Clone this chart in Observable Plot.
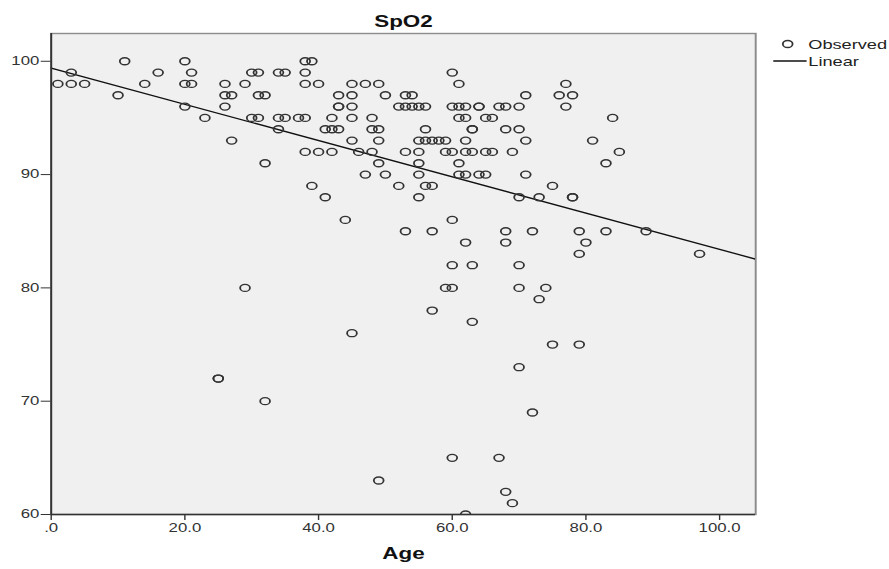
<!DOCTYPE html>
<html>
<head>
<meta charset="utf-8">
<script src="https://cdn.jsdelivr.net/npm/d3@7"></script>
<script src="https://cdn.jsdelivr.net/npm/@observablehq/plot@0.6"></script>
<style>
html, body { margin: 0; padding: 0; background: #fff; overflow: hidden; }
#wrap { position: relative; width: 889px; height: 569px; }
#legend { position: absolute; left: 773px; top: 36px; font-family: 'Liberation Sans', Arial, sans-serif; }
</style>
</head>
<body>
<div id="wrap">
  <svg id="legend" width="116" height="35" viewBox="0 0 82.86 35" preserveAspectRatio="none">
    <circle cx="10.5" cy="8" r="3.5" fill="none" stroke="#333" stroke-width="1.3"></circle>
    <text x="25.2" y="8" dy="0.35em" font-size="13" fill="#222">Observed</text>
    <line x1="0.2" x2="24" y1="25" y2="25" stroke="#111" stroke-width="1.3"></line>
    <text x="25.2" y="25" dy="0.35em" font-size="13" fill="#222">Linear</text>
  </svg>
</div>
<script>
// ---- Data ----
const ageValues = [
  1, 3, 3, 5, 10, 11, 14, 16, 20, 20, 21, 21, 20, 23, 26, 26, 27, 26, 29, 27,
  30, 31, 31, 32, 30, 31, 32, 34, 35, 34, 35, 37, 34, 29, 25, 25, 32, 39, 41, 44, 45, 49,
  38, 39,
  38,
  38, 40, 45, 47, 49,
  43, 45, 50, 53, 54,
  43, 43, 45, 52, 53, 54, 55, 56,
  38, 42, 45, 48,
  41, 42, 43, 48, 49, 56,
  45, 49, 55, 56, 57, 58, 59,
  38, 40, 42, 46, 48, 53, 55, 59,
  49, 55,
  47, 50, 55,
  52, 56, 57,
  55,
  60,
  61, 77,
  71, 76, 78,
  60, 61, 62, 64, 64, 67, 68, 70, 77,
  61, 62, 65, 66, 84,
  63, 63, 68, 70,
  62, 71, 81,
  60, 62, 63, 65, 66, 69, 85,
  61, 83,
  61, 62, 64, 65, 71,
  75,
  70, 73, 78, 78,
  60,
  53, 57, 68, 72, 79, 83, 89,
  62, 68, 80,
  79, 97,
  60, 63, 70,
  59, 60, 70, 74,
  73,
  57,
  63,
  75, 79,
  70,
  72,
  60, 67,
  68,
  69,
  62
];
const spo2Values = [
  98, 99, 98, 98, 97, 100, 98, 99, 100, 98, 98, 99, 96, 95, 98, 97, 97, 96, 98, 93,
  99, 99, 97, 97, 95, 95, 91, 99, 99, 95, 95, 95, 94, 80, 72, 72, 70, 89, 88, 86, 76, 63,
  100, 100,
  99,
  98, 98, 98, 98, 98,
  97, 97, 97, 97, 97,
  96, 96, 96, 96, 96, 96, 96, 96,
  95, 95, 95, 95,
  94, 94, 94, 94, 94, 94,
  93, 93, 93, 93, 93, 93, 93,
  92, 92, 92, 92, 92, 92, 92, 92,
  91, 91,
  90, 90, 90,
  89, 89, 89,
  88,
  99,
  98, 98,
  97, 97, 97,
  96, 96, 96, 96, 96, 96, 96, 96, 96,
  95, 95, 95, 95, 95,
  94, 94, 94, 94,
  93, 93, 93,
  92, 92, 92, 92, 92, 92, 92,
  91, 91,
  90, 90, 90, 90, 90,
  89,
  88, 88, 88, 88,
  86,
  85, 85, 85, 85, 85, 85, 85,
  84, 84, 84,
  83, 83,
  82, 82, 82,
  80, 80, 80, 80,
  79,
  78,
  77,
  75, 75,
  73,
  69,
  65, 65,
  62,
  61,
  60
];
const xTicks = [0, 20, 40, 60, 80, 100];
const yTicks = [60, 70, 80, 90, 100];
const xDomain = [0, 105.4];
const yDomain = [60, 102.45];
// Linear fit shown in the reference (intercept, slope)
const fitIntercept = 99.4;
const fitSlope = -0.16;

// ---- Build tables ----
const points = ageValues.map((a, i) => ({age: a, spo2: spo2Values[i]}));
const fitLine = xDomain.map(a => ({age: a, spo2: fitIntercept + fitSlope * a}));

const S = 1.4; // the reference is stretched horizontally
const W = 889 / S;

const chart = Plot.plot({
  width: W,
  height: 569,
  marginLeft: 50.5 / S,
  marginRight: (889 - 755) / S,
  marginTop: 33,
  marginBottom: 55,
  style: {
    fontFamily: "'Liberation Sans', Arial, sans-serif",
    fontSize: "12px",
    color: "#333",
    background: "transparent",
    overflow: "visible"
  },
  x: {domain: xDomain},
  y: {domain: yDomain},
  marks: [
    Plot.frame({fill: "#f0f0f0", stroke: "#8c8c8c", strokeWidth: 1.4}),
    Plot.line(fitLine, {x: "age", y: "spo2", stroke: "#111", strokeWidth: 1.3, clip: true}),
    Plot.dot(points, {x: "age", y: "spo2", r: 3.5, stroke: "#333", strokeWidth: 1.3, fill: "none", clip: true}),
    Plot.ruleX([xDomain[0]], {stroke: "#333", strokeWidth: 1.3}),
    Plot.ruleY([yDomain[0]], {stroke: "#333", strokeWidth: 1.3}),
    Plot.axisX({ticks: xTicks, tickFormat: d => d === 0 ? ".0" : d.toFixed(1), tickSize: 6, tickPadding: 3, label: null}),
    Plot.axisY({ticks: yTicks, tickFormat: d => String(d), tickSize: 7, tickPadding: 1.5, label: null}),
    Plot.text(["SpO2"], {text: d => d, frameAnchor: "top", dy: -18, fontWeight: "bold", fontSize: 16, fill: "#111"}),
    Plot.text(["Age"], {text: d => d, frameAnchor: "bottom", dy: 44, fontWeight: "bold", fontSize: 16, fill: "#111"})
  ]
});

chart.setAttribute("width", 889);
chart.setAttribute("height", 569);
chart.setAttribute("preserveAspectRatio", "none");
chart.style.width = "889px";
chart.style.height = "569px";
chart.style.maxWidth = "none";
chart.style.display = "block";
const wrap = document.getElementById("wrap");
wrap.insertBefore(chart, wrap.firstChild);
</script>
</body>
</html>
